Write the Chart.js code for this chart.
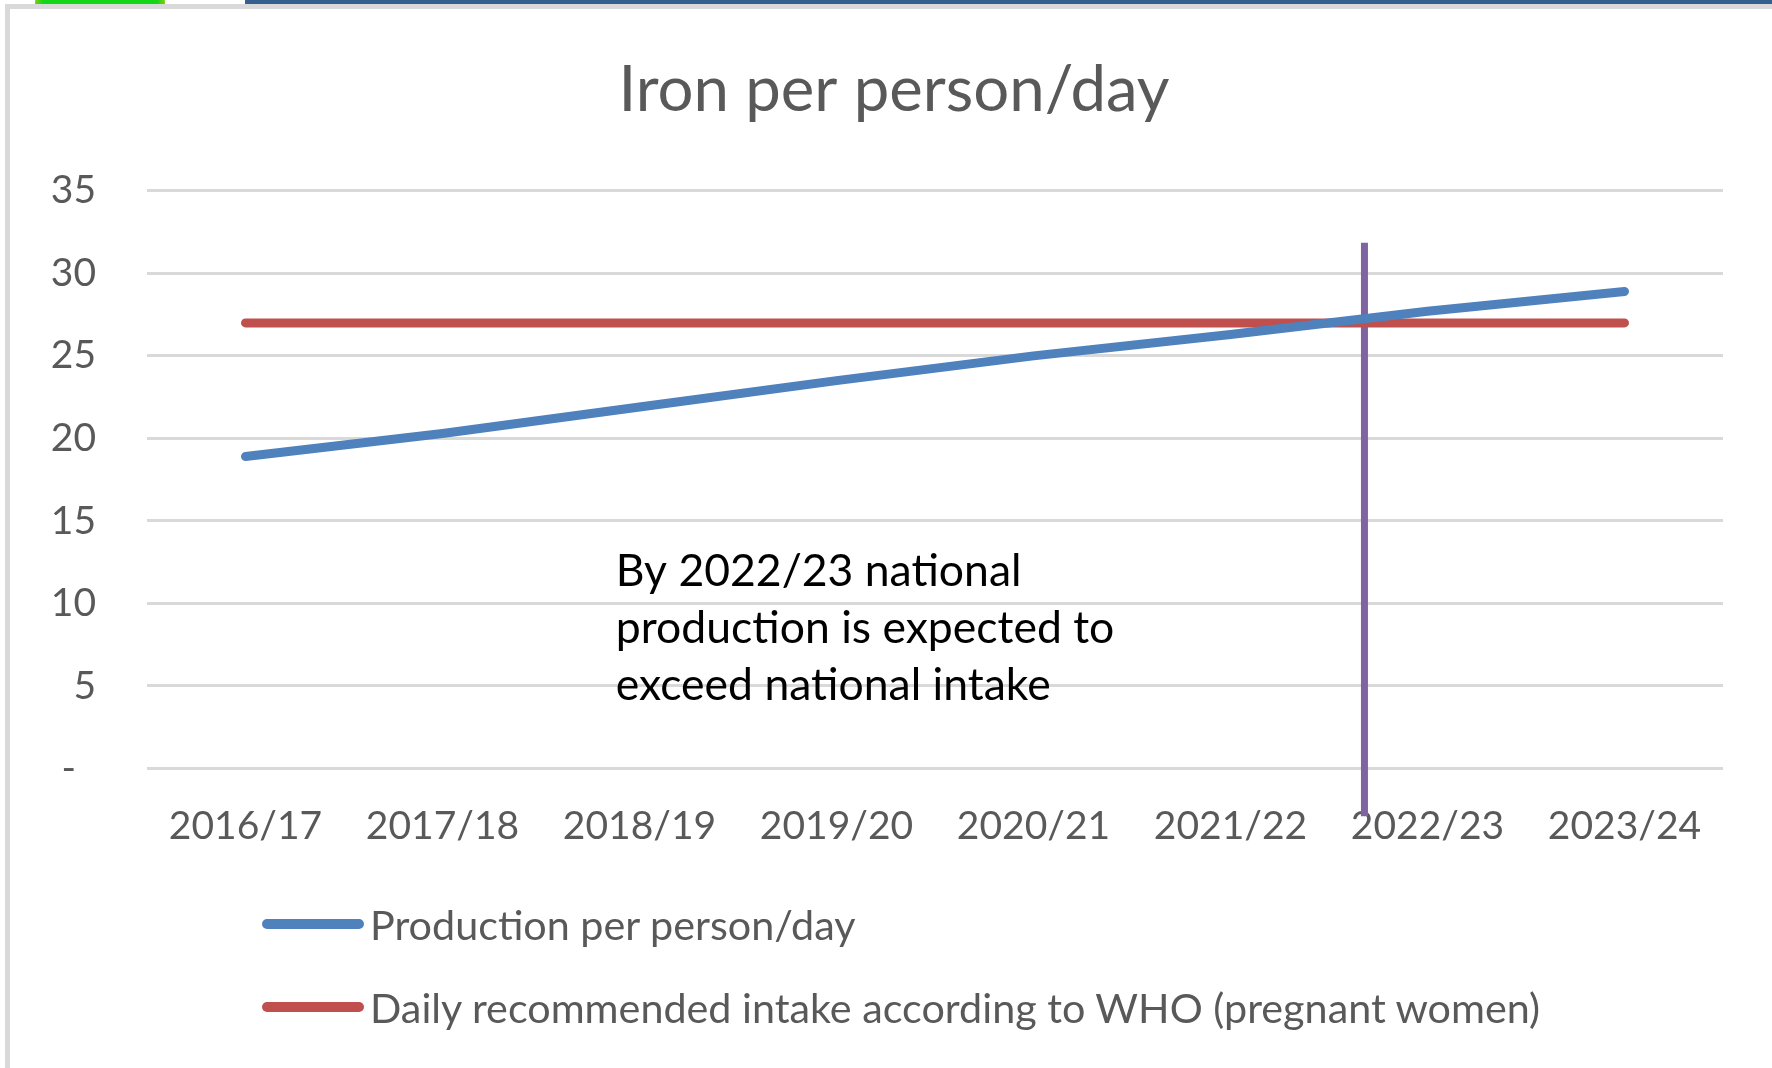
<!DOCTYPE html>
<html>
<head>
<meta charset="utf-8">
<title>Iron per person/day</title>
<script src="https://cdn.jsdelivr.net/npm/chart.js@4.4.1/dist/chart.umd.min.js"></script>
<style>
  html, body { margin: 0; padding: 0; background: #fff; }
  body { width: 1772px; height: 1068px; position: relative; overflow: hidden; font-family: Lato, "Open Sans", sans-serif; }
  #blob { position: absolute; left: 35px; top: -60px; width: 130px; height: 130px; border-radius: 50%;
          background: radial-gradient(circle at center, #12d618 0 62%, #f0c400 80%); }
  #topbar { position: absolute; left: 245px; top: 0; right: 0; height: 4px; background: #365f91; }
  #frame { position: absolute; left: 5px; top: 4px; width: 1800px; height: 1059px; background: #fff;
           border-left: 5px solid #d9d9d9; border-top: 5px solid #d9d9d9; border-bottom: 2px solid #ececec; }
  #chartBox { position: absolute; left: 0; top: 0; width: 1772px; height: 1068px; }
  #ironChart { display: block; width: 1772px; height: 1068px; }
  #legend { position: absolute; left: 262px; top: 895px; }
  .item { display: flex; align-items: center; height: 58px; margin-bottom: 25px; color: #595959; font-size: 41.3px; }
  .swatch { width: 102px; height: 10px; border-radius: 5px; margin-right: 6px; }
</style>
</head>
<body>
<div id="blob"></div>
<div id="topbar"></div>
<div id="frame"></div>
<div id="chartBox"><canvas id="ironChart" width="1772" height="1068"></canvas></div>
<div id="legend"></div>
<script>
// values
const categories = ['2016/17', '2017/18', '2018/19', '2019/20', '2020/21', '2021/22', '2022/23', '2023/24'];
const production = [18.9, 20.3, 21.9, 23.5, 25.0, 26.3, 27.7, 28.9];
const whoIntake = [27, 27, 27, 27, 27, 27, 27, 27];
// vertical marker between 2021/22 and 2022/23 (category index units)
const markerX = [5.68, 5.68];
const markerY = [-2.9, 31.85];
const noteLines = ['By 2022/23 national', 'production is expected to', 'exceed national intake'];
const noteAt = [1.88, 11.9];

const grey = '#595959';

const notePlugin = {
  id: 'note',
  afterDatasetsDraw(chart) {
    const ctx = chart.ctx;
    const x = chart.scales.x2.getPixelForValue(noteAt[0]);
    const y = chart.scales.y.getPixelForValue(noteAt[1]);
    ctx.save();
    ctx.fillStyle = '#000';
    ctx.font = '44.5px Lato, "Open Sans", sans-serif';
    ctx.textBaseline = 'middle';
    noteLines.forEach((line, i) => ctx.fillText(line, x, y + i * 57));
    ctx.restore();
  }
};

const chart = new Chart(document.getElementById('ironChart'), {
  type: 'line',
  data: {
    labels: categories,
    datasets: [
      {
        label: 'Production per person/day',
        data: production,
        borderColor: '#4f81bd',
        borderWidth: 9,
        borderCapStyle: 'round',
        pointRadius: 0,
        tension: 0
      },
      {
        label: 'Daily recommended intake according to WHO (pregnant women)',
        data: whoIntake,
        borderColor: '#c0504d',
        borderWidth: 9,
        borderCapStyle: 'round',
        pointRadius: 0
      },
      {
        label: '',
        data: markerX.map((x, i) => ({ x: x, y: markerY[i] })),
        xAxisID: 'x2',
        borderColor: '#8064a2',
        borderWidth: 7,
        pointRadius: 0,
        clip: false
      }
    ]
  },
  options: {
    responsive: false,
    animation: false,
    devicePixelRatio: 1,
    // uneven padding puts the title centre where the original has it
    layout: { padding: { left: 16, right: 0, top: 0, bottom: 0 } },
    plugins: {
      legend: { display: false },
      tooltip: { enabled: false },
      title: {
        display: true,
        text: 'Iron per person/day',
        color: grey,
        font: { family: 'Lato, "Open Sans", sans-serif', size: 63.5, weight: 'normal', lineHeight: 1.1 },
        padding: { top: 56, bottom: 65 }
      }
    },
    scales: {
      x: {
        offset: true,
        grid: { display: false },
        border: { display: false },
        ticks: {
          color: grey,
          padding: 27,
          maxRotation: 0,
          font: { family: 'Lato, "Open Sans", sans-serif', size: 39 }
        },
        afterFit: scale => { scale.height = 299.5; }
      },
      x2: {
        type: 'linear',
        display: false,
        min: -0.5,
        max: categories.length - 0.5
      },
      y: {
        min: 0,
        max: 35,
        grid: { color: '#d9d9d9', lineWidth: 3, drawTicks: false },
        border: { display: false },
        ticks: {
          stepSize: 5,
          padding: 51,
          color: grey,
          font: { family: 'Lato, "Open Sans", sans-serif', size: 39 },
          callback: v => v === 0 ? '-  ' : v
        },
        afterFit: scale => { scale.width = 131; }
      },
      // empty right-hand margin beside the plot
      yRight: {
        position: 'right',
        grid: { display: false },
        border: { display: false },
        ticks: { display: false },
        afterFit: scale => { scale.width = 49; }
      }
    }
  },
  plugins: [notePlugin]
});

// legend in a column, like the original
const legendBox = document.getElementById('legend');
chart.data.datasets.filter(ds => ds.label).forEach(ds => {
  const row = document.createElement('div');
  row.className = 'item';
  const sw = document.createElement('span');
  sw.className = 'swatch';
  sw.style.background = ds.borderColor;
  row.appendChild(sw);
  row.appendChild(document.createTextNode(ds.label));
  legendBox.appendChild(row);
});
</script>
</body>
</html>
